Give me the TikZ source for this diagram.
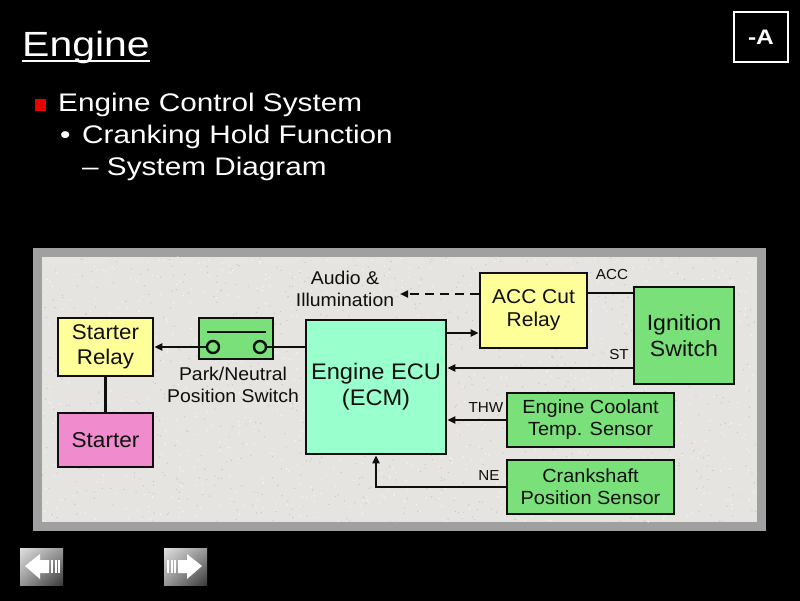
\documentclass[tikz,border=0pt]{standalone}
\usepackage{fontspec}
\setmainfont{Liberation Sans}
\newfontfamily\hdrfont[FakeStretch=1.17]{Liberation Sans}
\newfontfamily\diafont[FakeStretch=1.05]{Liberation Sans}
\usetikzlibrary{arrows.meta,shadings}
\definecolor{boxyellow}{RGB}{255,255,153}
\definecolor{boxpink}{RGB}{240,140,205}
\definecolor{boxgreen}{RGB}{122,224,122}
\definecolor{boxaqua}{RGB}{153,255,204}
\definecolor{panelbg}{RGB}{230,228,224}
\definecolor{speckdark}{RGB}{200,198,194}
\definecolor{specklight}{RGB}{246,245,243}
\definecolor{panelborder}{RGB}{160,160,160}
\definecolor{ink}{RGB}{15,15,15}
\definecolor{bulletred}{RGB}{235,0,0}
\tikzset{
  hdr/.style={text=white, inner sep=0pt, anchor=base west},
  blk/.style={draw=ink, line width=2.8pt, inner sep=0pt, align=center, text=ink},
  lbl/.style={text=ink, inner sep=0pt, align=center},
  wire/.style={draw=ink, line width=2.6pt},
  arr/.style={wire, -{Triangle[length=8pt,width=7pt]}},
  navbtn/.style={upper left=white!75!gray, upper right=gray!80, lower left=gray!80, lower right=gray!45!black},
}
\newcommand{\dsize}[1]{\diafont\fontsize{#1}{1.15\dimexpr#1pt\relax}\selectfont}
\begin{document}
\begin{tikzpicture}[x=1pt,y=-1pt]
\useasboundingbox (0,0) rectangle (800,601);
\fill[black] (0,0) rectangle (800,601);

% header
\node[hdr, font=\hdrfont\fontsize{35}{40}\selectfont] (title) at (22,57) {Engine};
\draw[white, line width=2pt] ([yshift=-4pt]title.base west) -- ([yshift=-4pt]title.base east);
\fill[bulletred] (35,99) rectangle (46,111);
\node[hdr, font=\hdrfont\fontsize{25.4}{30}\selectfont] (l1) at (58,112) {Engine Control System};
\node[hdr, font=\hdrfont\fontsize{25.4}{30}\selectfont] (b2) at (60,144) {•};
\node[hdr, font=\hdrfont\fontsize{25.4}{30}\selectfont] (l2) at (82,144) {Cranking Hold Function};
\node[hdr, font=\hdrfont\fontsize{25.4}{30}\selectfont] (l3) at (82,176) {– System Diagram};
\node[draw=white, line width=2.2pt, text=white, minimum width=54pt, minimum height=50pt, inner sep=0pt,
      font=\hdrfont\bfseries\fontsize{21}{24}\selectfont] (tag) at (761,37) {-A};

% panel
\fill[panelborder] (33,248) rectangle (766,531);
\fill[panelbg] (42,257) rectangle (757,522);
\pgfmathsetseed{7}
\foreach \i in {1,...,900}{
  \pgfmathsetmacro{\px}{42+715*rnd}
  \pgfmathsetmacro{\py}{257+265*rnd}
  \fill[speckdark] (\px,\py) circle (0.7pt);
}
\foreach \i in {1,...,900}{
  \pgfmathsetmacro{\px}{42+715*rnd}
  \pgfmathsetmacro{\py}{257+265*rnd}
  \fill[specklight] (\px,\py) circle (0.8pt);
}

% blocks
\node[blk, fill=boxyellow, minimum width=95pt, minimum height=58pt, font=\dsize{21.3}] (relay) at (105.5,347) {Starter\\Relay};
\node[blk, fill=boxpink, minimum width=95pt, minimum height=54pt, font=\dsize{21.5}] (starter) at (105.5,440) {Starter};
\node[blk, fill=boxgreen, minimum width=74pt, minimum height=41pt] (pn) at (236,338.5) {};
\node[blk, fill=boxaqua, minimum width=140pt, minimum height=134pt, font=\dsize{22.5}] (ecu) at (376,387) {Engine ECU\\(ECM)};
\node[blk, fill=boxyellow, minimum width=107pt, minimum height=75pt, font=\dsize{20}] (acc) at (533.5,310.5) {ACC Cut\\Relay};
\node[blk, fill=boxgreen, minimum width=100pt, minimum height=97pt, font=\dsize{22}] (ign) at (684,335.5) {Ignition\\Switch};
\node[blk, fill=boxgreen, minimum width=167pt, minimum height=54pt, font=\dsize{19}] (ect) at (590.5,420) {Engine Coolant\\Temp. Sensor};
\node[blk, fill=boxgreen, minimum width=167pt, minimum height=54pt, font=\dsize{19}] (ckp) at (590.5,487) {Crankshaft\\Position Sensor};

% switch symbol
\node[draw=ink, line width=2.4pt, circle, minimum size=12pt, inner sep=0pt] (c1) at (213,347) {};
\node[draw=ink, line width=2.4pt, circle, minimum size=12pt, inner sep=0pt] (c2) at (260,347) {};
\coordinate (s1) at (207,332);
\coordinate (s2) at (266,332);
\draw[wire, line width=2.2pt] (s1) -- (s2);

% labels
\node[lbl, font=\dsize{18.5}] (audio) at (345,289) {Audio \&\\Illumination};
\node[lbl, font=\dsize{18.5}] (pnl) at (233,385) {Park/Neutral\\Position Switch};
\node[lbl, font=\dsize{14.5}] (accl) at (612,275) {ACC};
\node[lbl, font=\dsize{14.5}] (stl) at (619,355) {ST};
\node[lbl, font=\dsize{14.5}] (thwl) at (486,408) {THW};
\node[lbl, font=\dsize{14.5}] (nel) at (489,476) {NE};

% connectors
\coordinate (audiotip) at (400,294);
\draw[arr, dashed, dash pattern=on 9pt off 6pt] (acc.west |- 0,294) -- (audiotip);
\draw[wire] (acc.east |- 0,293) -- (ign.west |- 0,293);
\draw[arr] (ecu.east |- 0,333) -- (acc.west |- 0,333);
\draw[arr] (ign.west |- 0,368) -- (ecu.east |- 0,368);
\draw[arr] (ect.west) -- (ecu.east |- ect.west);
\draw[arr] (ckp.west) -| (ecu.south);
\draw[wire] (ecu.west |- c2.east) -- (c2.east);
\draw[arr] (c1.west) -- (relay.east |- c1.west);
\draw[wire] (relay.south) -- (starter.north);

% navigation buttons
\shade[navbtn] (20,548) rectangle (63,585);
\shade[navbtn] (164,548) rectangle (207,585);
\foreach \sx/\dir in {0/1, 227/-1}{
  \begin{scope}[xshift=\sx pt, xscale=\dir]
    \fill[white] (25,566) -- (40,554) -- (40,560) -- (49,560) -- (49,573) -- (40,573) -- (40,579) -- cycle;
    \fill[white] (51,560) rectangle (53,573);
    \fill[white] (54.5,560) rectangle (56.5,573);
    \fill[white] (58,560) rectangle (60,573);
  \end{scope}
}
\end{tikzpicture}
\end{document}
